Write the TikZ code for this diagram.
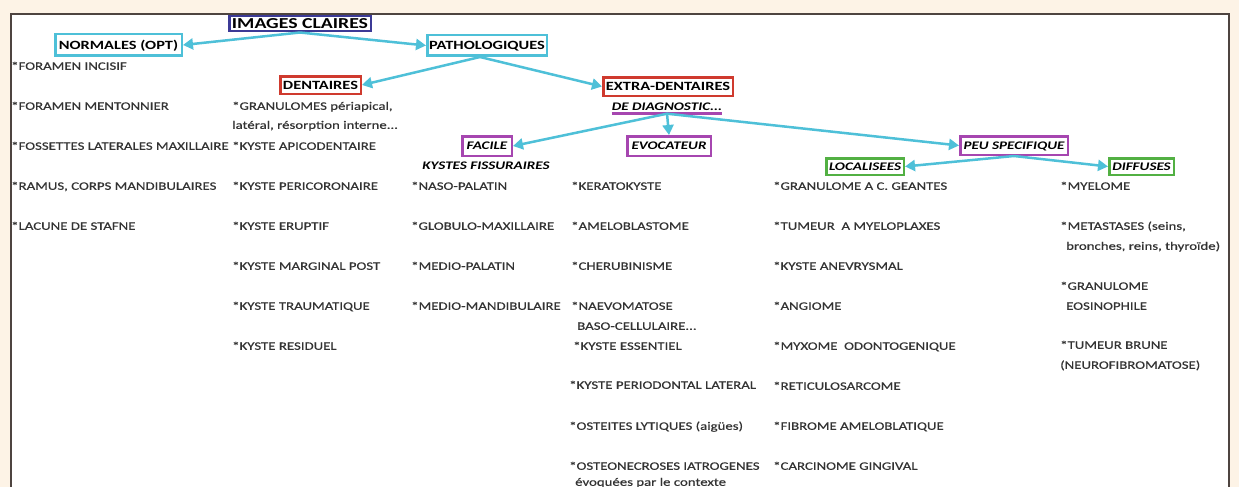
\documentclass[tikz,border=0pt]{standalone}
\usepackage{fontspec}
\setmainfont{Carlito}[FakeStretch=1.3]
\newfontfamily\itemf{Carlito}[FakeStretch=1.3, FakeBold=0.5]
\usetikzlibrary{arrows.meta}
\definecolor{bg}{HTML}{FDF3E6}
\definecolor{cyanA}{HTML}{4EC0D8}
\definecolor{navyA}{HTML}{3C3A96}
\definecolor{redA}{HTML}{CF3A2E}
\definecolor{magA}{HTML}{A646B0}
\definecolor{greenA}{HTML}{52B043}
\definecolor{txt}{HTML}{333333}
\definecolor{frameC}{HTML}{4E4440}
\begin{document}
\begin{tikzpicture}[x=1pt,y=-1pt,
  item/.style={anchor=base west, inner sep=0pt, yshift=-3.8pt, text=txt, font=\itemf\fontsize{11.4}{13}\selectfont},
  hdr/.style={draw, line width=2.5pt, fill=white, inner sep=0pt, text=black, font=\bfseries\fontsize{12.6}{14}\selectfont, text height=8.1pt, text depth=0pt},
  ihdr/.style={hdr, font=\bfseries\itshape\fontsize{11.6}{13}\selectfont, text height=7.4pt},
  link/.style={draw=cyanA, line width=2.5pt, -{Triangle[length=10pt,width=11pt]}},
]
\useasboundingbox (0,0) rectangle (1239,487);
\fill[bg] (0,0) rectangle (1239,487);
\fill[white] (11,14) rectangle (1229,490);

% headers
\node[hdr, draw=navyA, font=\bfseries\fontsize{15.2}{17}\selectfont, text height=9.8pt, minimum width=141.5pt, minimum height=15.5pt] (ic) at (300,23.5) {IMAGES CLAIRES};
\node[hdr, draw=cyanA, minimum width=126.5pt, minimum height=21.5pt] (norm) at (118.5,45) {NORMALES (OPT)};
\node[hdr, draw=cyanA, minimum width=119.5pt, minimum height=20.5pt] (path) at (487,45.5) {PATHOLOGIQUES};
\node[hdr, draw=redA, minimum width=80.5pt, minimum height=17.5pt] (dent) at (320.5,85) {DENTAIRES};
\node[hdr, draw=redA, minimum width=129.5pt, minimum height=18.5pt] (extra) at (668,86.5) {EXTRA-DENTAIRES};
\node[inner sep=0pt, text=black, font=\bfseries\itshape\fontsize{11.6}{13}\selectfont, text height=7.4pt, text depth=0pt, minimum width=107pt, minimum height=14pt] (diag) at (667,106.5) {DE DIAGNOSTIC...};
\draw[magA, line width=2.5pt] (diag.south west) -- (diag.south east);
\node[ihdr, draw=magA, minimum width=49.5pt, minimum height=19.5pt] (fac) at (487,146) {FACILE};
\node[ihdr, draw=magA, minimum width=83.5pt, minimum height=19.5pt] (evo) at (669,146) {EVOCATEUR};
\node[ihdr, draw=magA, minimum width=107.5pt, minimum height=18.5pt] (peu) at (1014,145.5) {PEU SPECIFIQUE};
\node[ihdr, draw=greenA, minimum width=77.5pt, minimum height=16.5pt] (loc) at (865,166.5) {LOCALISEES};
\node[ihdr, draw=greenA, minimum width=64.5pt, minimum height=16.5pt] (dif) at (1141.5,166.5) {DIFFUSES};
\node[inner sep=0pt, text=black, font=\bfseries\itshape\fontsize{11.6}{13}\selectfont] (kf) at (486,166) {KYSTES FISSURAIRES};

% connectors
\draw[link] (ic.south) -- (norm.east);
\draw[link] (ic.south) -- (path.west);
\draw[link] ([xshift=-7pt]path.south) -- (dent.east);
\draw[link] ([xshift=-7pt]path.south) -- (extra.west);
\draw[link] (diag.south) -- (fac.east);
\draw[link] (diag.south) -- (evo.north);
\draw[link] (diag.south) -- (peu.west);
\draw[link] (peu.south) -- (loc.east);
\draw[link] (peu.south) -- (dif.west);

% column 1
\node[item] (a1) at (11,66) {*FORAMEN INCISIF};
\node[item] (a2) at (11,106) {*FORAMEN MENTONNIER};
\node[item] (a3) at (11,146) {*FOSSETTES LATERALES MAXILLAIRE};
\node[item] (a4) at (11,186) {*RAMUS, CORPS MANDIBULAIRES};
\node[item] (a5) at (11,226) {*LACUNE DE STAFNE};

% column 2
\node[item] (b1) at (232,106) {*GRANULOMES périapical,};
\node[item] (b1b) at (232,125) {latéral, résorption interne...};
\node[item] (b2) at (232,146) {*KYSTE APICODENTAIRE};
\node[item] (b3) at (232,186) {*KYSTE PERICORONAIRE};
\node[item] (b4) at (232,226) {*KYSTE ERUPTIF};
\node[item] (b5) at (232,266) {*KYSTE MARGINAL POST};
\node[item] (b6) at (232,306) {*KYSTE TRAUMATIQUE};
\node[item] (b7) at (232,346) {*KYSTE RESIDUEL};

% column 3
\node[item] (c1) at (411,186) {*NASO-PALATIN};
\node[item] (c2) at (411,226) {*GLOBULO-MAXILLAIRE};
\node[item] (c3) at (411,266) {*MEDIO-PALATIN};
\node[item] (c4) at (411,306) {*MEDIO-MANDIBULAIRE};

% column 4
\node[item] (d1) at (571,186) {*KERATOKYSTE};
\node[item] (d2) at (571,226) {*AMELOBLASTOME};
\node[item] (d3) at (571,266) {*CHERUBINISME};
\node[item] (d4) at (571,306) {*NAEVOMATOSE};
\node[item] (d4b) at (577,326) {BASO-CELLULAIRE...};
\node[item] (d5) at (573,346) {*KYSTE ESSENTIEL};
\node[item] (d6) at (569,385) {*KYSTE PERIODONTAL LATERAL};
\node[item] (d7) at (569,426) {*OSTEITES LYTIQUES (aigües)};
\node[item] (d8) at (569,466) {*OSTEONECROSES IATROGENES};
\node[item] (d8b) at (575,482) {évoquées par le contexte};

% column 5
\node[item] (e1) at (773,186) {*GRANULOME A C. GEANTES};
\node[item] (e2) at (773,226) {*TUMEUR\ \ A MYELOPLAXES};
\node[item] (e3) at (773,266) {*KYSTE ANEVRYSMAL};
\node[item] (e4) at (773,306) {*ANGIOME};
\node[item] (e5) at (773,346) {*MYXOME\ \ ODONTOGENIQUE};
\node[item] (e6) at (773,386) {*RETICULOSARCOME};
\node[item] (e7) at (773,426) {*FIBROME AMELOBLATIQUE};
\node[item] (e8) at (773,466) {*CARCINOME GINGIVAL};

% column 6
\node[item] (f1) at (1060,186) {*MYELOME};
\node[item] (f2) at (1060,226) {*METASTASES (seins,};
\node[item] (f2b) at (1066,246) {bronches, reins, thyroïde)};
\node[item] (f3) at (1060,286) {*GRANULOME};
\node[item] (f3b) at (1066,306) {EOSINOPHILE};
\node[item] (f4) at (1060,345) {*TUMEUR BRUNE};
\node[item] (f4b) at (1060,365) {(NEUROFIBROMATOSE)};

% frame
\draw[frameC, line width=1.2pt] (11,490) -- (11,14) -- (1229,14) -- (1229,490);
\end{tikzpicture}
\end{document}
